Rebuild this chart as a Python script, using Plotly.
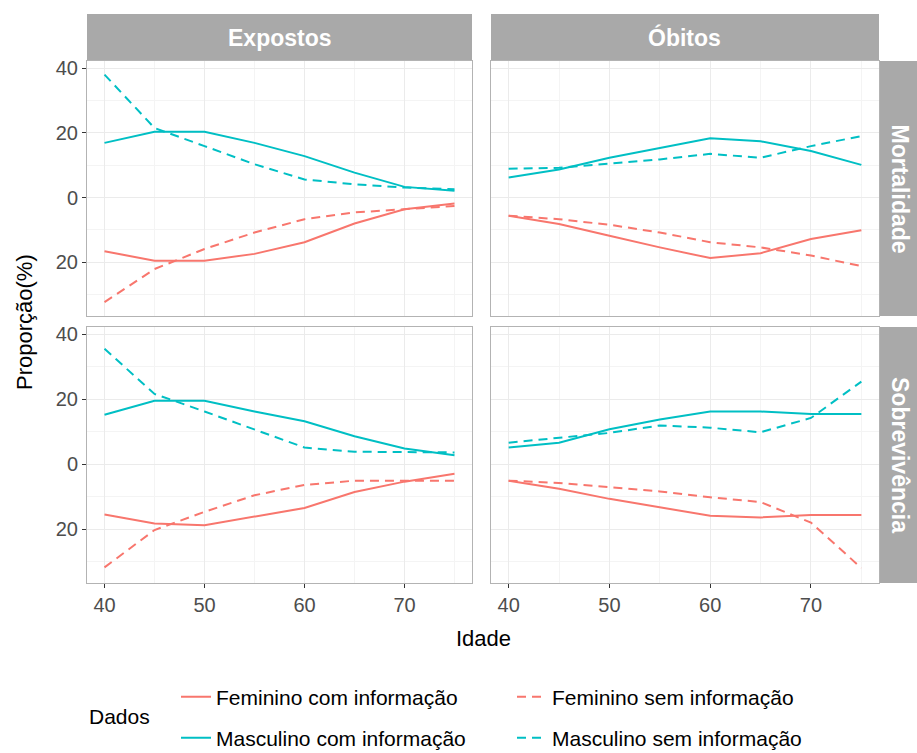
import plotly.graph_objects as go

# Age groups
idade = [40, 45, 50, 55, 60, 65, 70, 75]

# Proportions (%): women plotted as negative values, men as positive
exp_mort_fem_com = [-16.6, -19.5, -19.5, -17.4, -13.8, -8.0, -3.6, -1.8]
exp_mort_fem_sem = [-32.3, -22.1, -15.9, -10.8, -6.7, -4.6, -3.6, -2.6]
exp_mort_mas_com = [16.9, 20.3, 20.3, 16.9, 12.8, 7.7, 3.3, 2.1]
exp_mort_mas_sem = [38.0, 21.5, 15.9, 10.3, 5.6, 4.1, 3.1, 2.6]

obi_mort_fem_com = [-5.6, -8.2, -11.8, -15.4, -18.7, -17.2, -12.8, -10.1]
obi_mort_fem_sem = [-5.6, -6.7, -8.4, -10.8, -13.8, -15.4, -17.9, -21.2]
obi_mort_mas_com = [6.2, 8.7, 12.3, 15.4, 18.3, 17.4, 14.4, 10.1]
obi_mort_mas_sem = [8.9, 9.2, 10.5, 11.8, 13.5, 12.3, 15.9, 19.0]

exp_sobr_fem_com = [-15.5, -18.3, -18.8, -16.2, -13.5, -8.6, -5.4, -3.0]
exp_sobr_fem_sem = [-31.8, -20.3, -14.7, -9.6, -6.4, -5.1, -5.1, -5.1]
exp_sobr_mas_com = [15.2, 19.5, 19.5, 16.2, 13.2, 8.6, 4.8, 2.7]
exp_sobr_mas_sem = [35.5, 21.6, 16.2, 10.7, 5.1, 3.8, 3.8, 3.6]

obi_sobr_fem_com = [-5.1, -7.6, -10.7, -13.2, -15.9, -16.4, -15.7, -15.7]
obi_sobr_fem_sem = [-5.1, -5.8, -7.1, -8.4, -10.2, -11.7, -18.0, -32.0]
obi_sobr_mas_com = [5.1, 6.6, 10.7, 13.7, 16.2, 16.2, 15.4, 15.4]
obi_sobr_mas_sem = [6.6, 8.1, 9.6, 11.9, 11.2, 9.8, 14.2, 25.4]

series_names = ["Feminino com informação", "Feminino sem informação",
                "Masculino com informação", "Masculino sem informação"]
col_labels = ["Expostos", "Óbitos"]
row_labels = ["Mortalidade", "Sobrevivência"]
y_ticks = [40, 20, 0, -20]
x_ticks = [40, 50, 60, 70]

RED = "#F8766D"
TEAL = "#00BFC4"
DASH = "9px,6px"
series_style = [(RED, "solid"), (RED, DASH), (TEAL, "solid"), (TEAL, DASH)]
# female series go to the first legend row, male series to the second
series_legend = ["legend", "legend", "legend2", "legend2"]

panels = [
    ("x", "y", [exp_mort_fem_com, exp_mort_fem_sem, exp_mort_mas_com, exp_mort_mas_sem]),
    ("x2", "y2", [obi_mort_fem_com, obi_mort_fem_sem, obi_mort_mas_com, obi_mort_mas_sem]),
    ("x3", "y3", [exp_sobr_fem_com, exp_sobr_fem_sem, exp_sobr_mas_com, exp_sobr_mas_sem]),
    ("x4", "y4", [obi_sobr_fem_com, obi_sobr_fem_sem, obi_sobr_mas_com, obi_sobr_mas_sem]),
]

fig = go.Figure()
for p, (xa, ya, data) in enumerate(panels):
    for i, vals in enumerate(data):
        color, dash = series_style[i]
        fig.add_trace(go.Scatter(
            x=idade, y=vals, mode="lines", xaxis=xa, yaxis=ya,
            name=series_names[i], legendgroup=series_names[i],
            legend=series_legend[i],
            showlegend=(p == 0),
            line=dict(color=color, width=2, dash=dash),
            hovertemplate="%{x}: %{y:.1f}<extra></extra>",
        ))

W, H = 917, 753
def px_x(v):
    return v / W
def px_y(v):
    return 1 - v / H

col_dom = [[px_x(87), px_x(472)], [px_x(491), px_x(879)]]
row_dom = [[px_y(316), px_y(61)], [px_y(583), px_y(327)]]

FAMILY = "Liberation Sans, Arial, sans-serif"
GRID = "#EBEBEB"
MINOR = "#F4F4F4"
BORDER = "#B3B3B3"
TICKFONT = dict(family=FAMILY, size=20, color="#4D4D4D")

layout_axes = {}
for k in range(4):
    r, c = divmod(k, 2)
    sx = "" if k == 0 else str(k + 1)
    layout_axes["xaxis" + sx] = dict(
        domain=col_dom[c], anchor="y" + sx, range=[38.25, 76.75],
        tickvals=x_ticks, ticktext=[str(t) for t in x_ticks],
        showticklabels=(r == 1), ticks="outside" if r == 1 else "",
        ticklen=4, tickcolor="#333333", tickfont=TICKFONT,
        showgrid=True, gridcolor=GRID, gridwidth=1,
        minor=dict(tickvals=[45, 55, 65, 75], showgrid=True, gridcolor=MINOR, gridwidth=1),
        showline=True, mirror=True, linecolor=BORDER, linewidth=1,
        zeroline=False, fixedrange=True,
    )
    layout_axes["yaxis" + sx] = dict(
        domain=row_dom[r], anchor="x" + sx, range=[-36.6, 42.2],
        tickvals=y_ticks, ticktext=[str(abs(t)) for t in y_ticks],
        showticklabels=(c == 0), ticks="outside" if c == 0 else "",
        ticklen=4, tickcolor="#333333", tickfont=TICKFONT,
        showgrid=True, gridcolor=GRID, gridwidth=1,
        minor=dict(tickvals=[30, 10, -10, -30], showgrid=True, gridcolor=MINOR, gridwidth=1),
        showline=True, mirror=True, linecolor=BORDER, linewidth=1,
        zeroline=False, fixedrange=True,
    )

STRIP = "#A9A9A9"
STRIP_FONT = dict(family=FAMILY, size=23, color="white")
shapes = []
annotations = []
for c, lab in enumerate(col_labels):
    shapes.append(dict(type="rect", xref="paper", yref="paper",
                       x0=col_dom[c][0], x1=col_dom[c][1], y0=px_y(61), y1=px_y(14),
                       fillcolor=STRIP, line=dict(width=0), layer="below"))
    annotations.append(dict(xref="paper", yref="paper",
                            x=(col_dom[c][0] + col_dom[c][1]) / 2, y=px_y(38),
                            text="<b>" + lab + "</b>", showarrow=False,
                            font=STRIP_FONT, xanchor="center", yanchor="middle"))
for r, lab in enumerate(row_labels):
    shapes.append(dict(type="rect", xref="paper", yref="paper",
                       x0=px_x(880), x1=1.0, y0=row_dom[r][0], y1=row_dom[r][1],
                       fillcolor=STRIP, line=dict(width=0), layer="below"))
    annotations.append(dict(xref="paper", yref="paper",
                            x=px_x(900), y=(row_dom[r][0] + row_dom[r][1]) / 2,
                            text="<b>" + lab + "</b>", showarrow=False, textangle=90,
                            font=STRIP_FONT, xanchor="center", yanchor="middle"))

TITLE_FONT = dict(family=FAMILY, size=22, color="black")
annotations.append(dict(xref="paper", yref="paper", x=px_x(24), y=px_y(322),
                        text="Proporção(%)", showarrow=False, textangle=-90,
                        font=TITLE_FONT, xanchor="center", yanchor="middle"))
annotations.append(dict(xref="paper", yref="paper", x=px_x(483), y=px_y(638),
                        text="Idade", showarrow=False,
                        font=TITLE_FONT, xanchor="center", yanchor="middle"))
# legend title, centred between the two legend rows
annotations.append(dict(xref="paper", yref="paper", x=px_x(87), y=px_y(716),
                        text="Dados", showarrow=False,
                        font=dict(family=FAMILY, size=21, color="black"),
                        xanchor="left", yanchor="middle"))

LEGEND_COMMON = dict(
    orientation="h", xanchor="left", yanchor="middle",
    entrywidth=291, entrywidthmode="pixels",
    font=dict(family=FAMILY, size=21, color="black"),
    bgcolor="rgba(0,0,0,0)", borderwidth=0,
)

fig.update_layout(
    width=W, height=H,
    margin=dict(l=0, r=0, t=0, b=0, autoexpand=False),
    paper_bgcolor="white", plot_bgcolor="white",
    font=dict(family=FAMILY, size=17, color="black"),
    shapes=shapes, annotations=annotations,
    showlegend=True,
    legend=dict(x=px_x(176), y=px_y(697), **LEGEND_COMMON),
    legend2=dict(x=px_x(176), y=px_y(738), **LEGEND_COMMON),
    **layout_axes,
)

fig.write_html("out.html")
